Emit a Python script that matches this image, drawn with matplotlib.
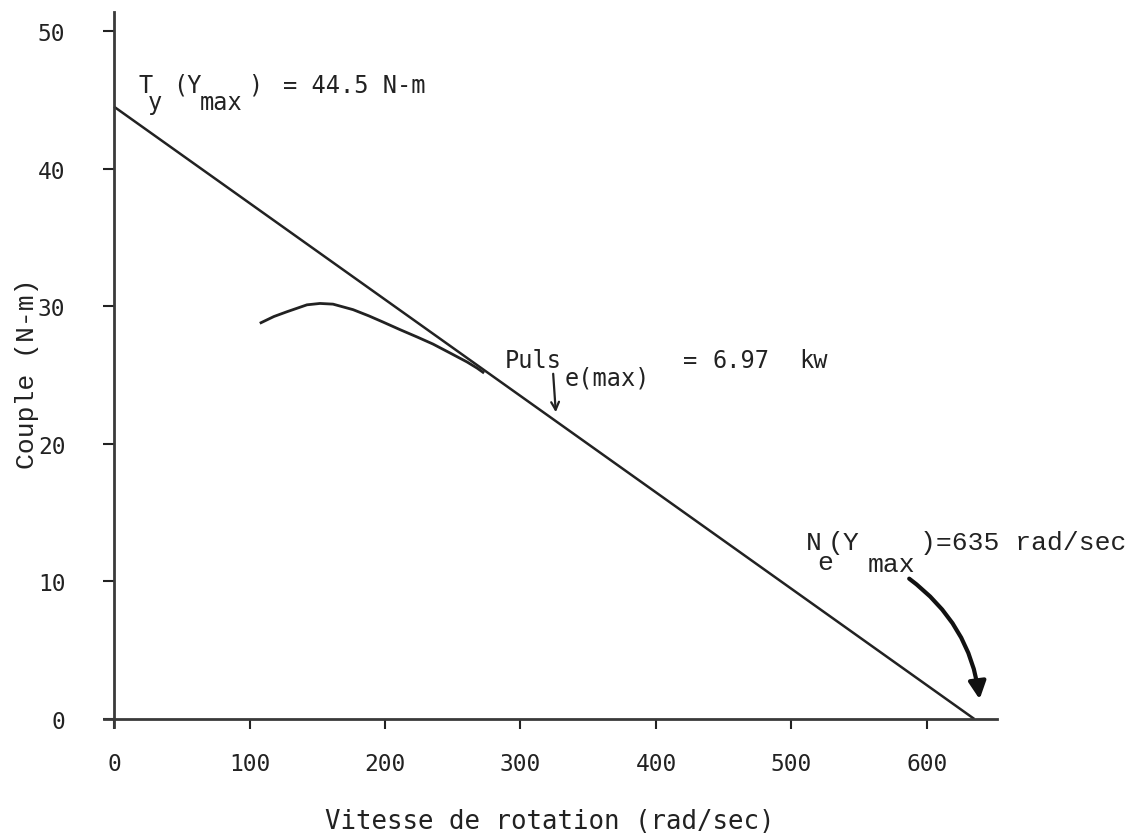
import matplotlib
matplotlib.use("Agg")
import matplotlib.pyplot as plt
from matplotlib.patches import FancyArrowPatch

# ---- data ----
line_speed = [0, 635]
line_torque = [44.5, 0]
curve_speed = [108.5, 118, 127.7, 142.4, 152, 161.6, 176.4, 188, 198.5, 211, 224, 235.4, 248, 260.5, 268, 272.3]
curve_torque = [28.8, 29.25, 29.6, 30.1, 30.2, 30.15, 29.75, 29.3, 28.85, 28.3, 27.75, 27.25, 26.6, 25.95, 25.5, 25.2]
x_ticks = [0, 100, 200, 300, 400, 500, 600]
y_ticks = [0, 10, 20, 30, 40, 50]
x_label = "Vitesse de rotation (rad/sec)"
y_label = "Couple (N-m)"

MONO_SANS = "DejaVu Sans Mono"
MONO_SERIF = "Liberation Mono"
INK = "#222222"

fig = plt.figure(figsize=(11.30, 8.37), dpi=100)
ax = fig.add_axes([104 / 1130, 1 - 728 / 837, (997 - 104) / 1130, (728 - 13) / 837])
ax.set_xlim(-7.4, 651.7)
ax.set_ylim(-0.58, 51.38)

for side in ("top", "right"):
    ax.spines[side].set_visible(False)
for side in ("left", "bottom"):
    ax.spines[side].set_position(("data", 0))
    ax.spines[side].set_linewidth(2.0)
    ax.spines[side].set_color("#3a3a3a")

ax.set_xticks(x_ticks)
ax.set_yticks(y_ticks)
ax.set_xticklabels([str(v) for v in x_ticks], family=MONO_SANS, fontsize=16.5)
ax.set_yticklabels([str(v) for v in y_ticks], family=MONO_SANS, fontsize=16.5)
ax.tick_params(axis="x", direction="out", length=7, width=1.5, pad=17, colors=INK)
ax.tick_params(axis="y", direction="out", length=8, width=1.5, pad=27, colors=INK)

# main straight line and curve
ax.plot(line_speed, line_torque, color=INK, lw=1.8, solid_capstyle="butt", clip_on=False)
ax.plot(curve_speed, curve_torque, color=INK, lw=2.0, clip_on=False)


def seg_text(x, y, parts, fs, family):
    for s, dx, dy in parts:
        ax.annotate(s, xy=(x, y), xytext=(dx * 0.72, dy * 0.72), textcoords="offset points",
                    fontsize=fs, family=family, ha="left", va="baseline", color=INK,
                    annotation_clip=False)


def px_to_data(px, py):
    return (px - 114) / 1.355, (720 - py) / 13.76


# T_y(Y_max) = 44.5 N-m
x0, y0 = px_to_data(138, 93)
seg_text(x0, y0, [("T", 0, 0), ("y", 10, -17), ("(Y", 35, 0), ("max", 62, -17),
                  (")", 110, 0), ("= 44.5 N-m", 145, 0)], 17, MONO_SANS)

# Puls_e(max) = 6.97 kw
x0, y0 = px_to_data(505, 368)
seg_text(x0, y0, [("Puls", 0, 0), ("e(max)", 60, -17), ("=", 178, 0),
                  ("6.97", 208, 0), ("kw", 294, 0)], 17, MONO_SANS)
ax.annotate("", xy=px_to_data(556, 416), xytext=px_to_data(553, 372),
            arrowprops=dict(arrowstyle="->", color=INK, lw=1.6, mutation_scale=14))

# N_e(Y_max)=635 rad/sec
x0, y0 = px_to_data(806, 550)
seg_text(x0, y0, [("N", 0, 0), ("e", 11, -20), ("(Y", 22, 0), ("max", 62, -22),
                  (")=635 rad/sec", 114, 0)], 19, MONO_SERIF)
arr = FancyArrowPatch(px_to_data(907, 578), px_to_data(980, 703),
                      connectionstyle="arc3,rad=-0.22", arrowstyle="-|>",
                      mutation_scale=26, lw=3.0, color="#111111", transform=ax.transData,
                      clip_on=False)
ax.add_patch(arr)

# axis labels
fig.text(550 / 1130, 1 - 822 / 837, x_label, family=MONO_SANS, fontsize=18.5,
         ha="center", va="center", color=INK)
fig.text(27 / 1130, 1 - 374 / 837, y_label, family=MONO_SERIF, fontsize=19,
         rotation=90, ha="center", va="center", color=INK)

fig.savefig("out.png", dpi=100)
